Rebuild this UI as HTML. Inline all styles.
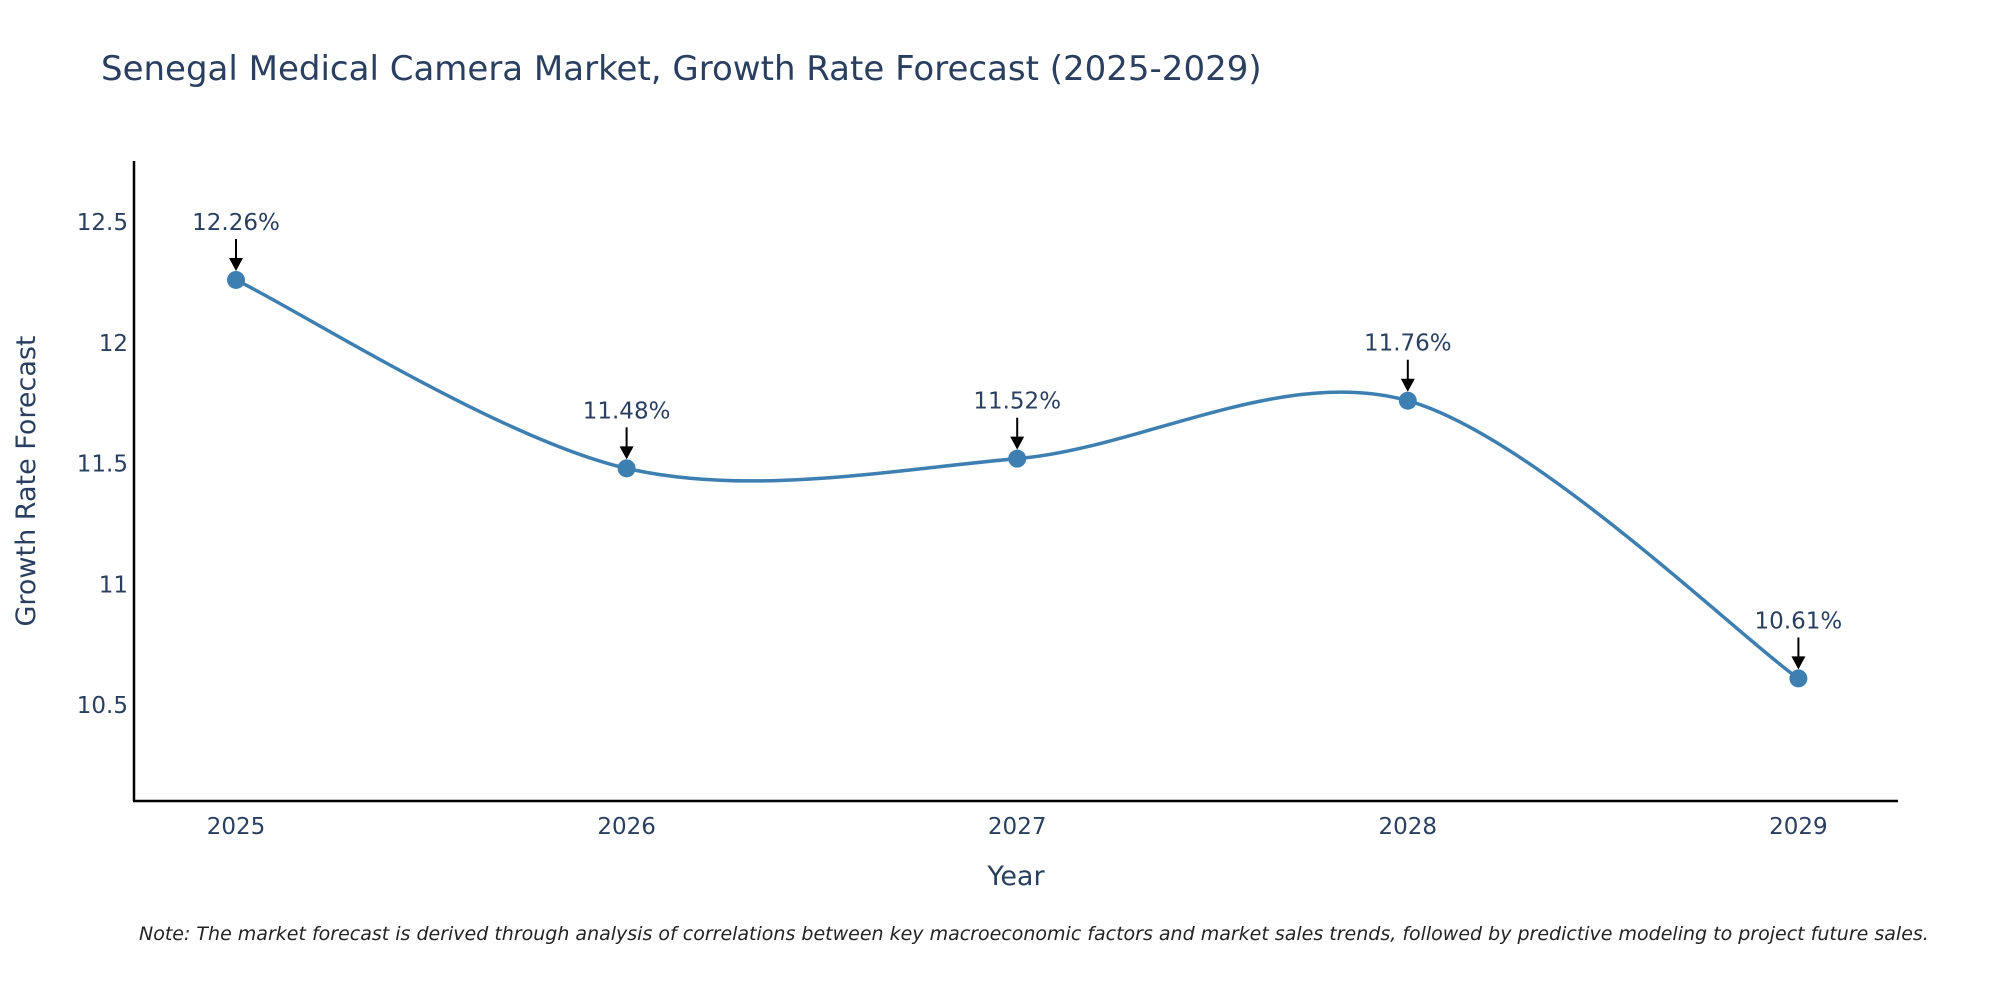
<!DOCTYPE html>
<html><head><meta charset="utf-8"><style>
body{margin:0;background:#fff;}
svg{display:block;font-family:"DejaVu Sans","Liberation Sans",sans-serif;}
</style></head><body>
<svg id="chart" width="2000" height="1000" viewBox="0 0 2000 1000">
<text x="101" y="80" font-size="34" fill="#2a3f5f">Senegal Medical Camera Market, Growth Rate Forecast (2025-2029)</text>
<g id="yticks"></g><g id="xticks"></g>
<line x1="134" y1="161" x2="134" y2="801" stroke="#000" stroke-width="2.5"/>
<line x1="133" y1="801" x2="1898" y2="801" stroke="#000" stroke-width="2.5"/>
<path id="line" fill="none" stroke="#3d7fb1" stroke-width="3.5"/>
<g id="marks"></g>
<text x="1016" y="885" font-size="27" fill="#2a3f5f" text-anchor="middle">Year</text>
<text transform="translate(35,481) rotate(-90)" font-size="27" fill="#2a3f5f" text-anchor="middle">Growth Rate Forecast</text>
<text x="139" y="940" font-size="19" font-style="italic" fill="#222">Note: The market forecast is derived through analysis of correlations between key macroeconomic factors and market sales trends, followed by predictive modeling to project future sales.</text>
</svg>
<script>
const years=[2025,2026,2027,2028,2029];
const values=[12.26,11.48,11.52,11.76,10.61];
const labels=["12.26%","11.48%","11.52%","11.76%","10.61%"];
const yTicks=[10.5,11,11.5,12,12.5];
const yTickLabels=["10.5","11","11.5","12","12.5"];
const NS="http://www.w3.org/2000/svg";
const X=v=>236+(v-2025)*390.6;
const Y=v=>705-(v-10.5)*241.5;
function mk(t,a,p){const e=document.createElementNS(NS,t);for(const k in a)e.setAttribute(k,a[k]);p.appendChild(e);return e;}
const yt=document.getElementById('yticks');
yTicks.forEach((v,i)=>{const t=mk('text',{x:128,y:Y(v)+8,'font-size':23,fill:'#2a3f5f','text-anchor':'end'},yt);


t.textContent=yTickLabels[i];});
const xt=document.getElementById('xticks');
years.forEach(y=>{const t=mk('text',{x:X(y),y:834,'font-size':23,fill:'#2a3f5f','text-anchor':'middle'},xt);


t.textContent=y;});
const pts=years.map((y,i)=>[X(y),Y(values[i])]);
let d=`M${pts[0][0]},${pts[0][1]}`;const s=0.16;
for(let i=0;i<pts.length-1;i++){const p0=pts[Math.max(0,i-1)],p1=pts[i],p2=pts[i+1],p3=pts[Math.min(pts.length-1,i+2)];
const c1=[p1[0]+(p2[0]-p0[0])*s,p1[1]+(p2[1]-p0[1])*s],c2=[p2[0]-(p3[0]-p1[0])*s,p2[1]-(p3[1]-p1[1])*s];
d+=` C${c1[0]},${c1[1]} ${c2[0]},${c2[1]} ${p2[0]},${p2[1]}`;}
document.getElementById('line').setAttribute('d',d);
const g=document.getElementById('marks');
pts.forEach((p,i)=>{const c=mk('circle',{cx:p[0],cy:p[1],r:9,fill:'#3d7fb1'},g);


mk('line',{x1:p[0],y1:p[1]-41,x2:p[0],y2:p[1]-20,stroke:'#000','stroke-width':2},g);
mk('polygon',{points:`${p[0]-7},${p[1]-22} ${p[0]+7},${p[1]-22} ${p[0]},${p[1]-9}`,fill:'#000'},g);
const t=mk('text',{x:p[0],y:p[1]-50,'font-size':23,fill:'#2a3f5f','text-anchor':'middle'},g);


t.textContent=labels[i];});
</script>
</body></html>
